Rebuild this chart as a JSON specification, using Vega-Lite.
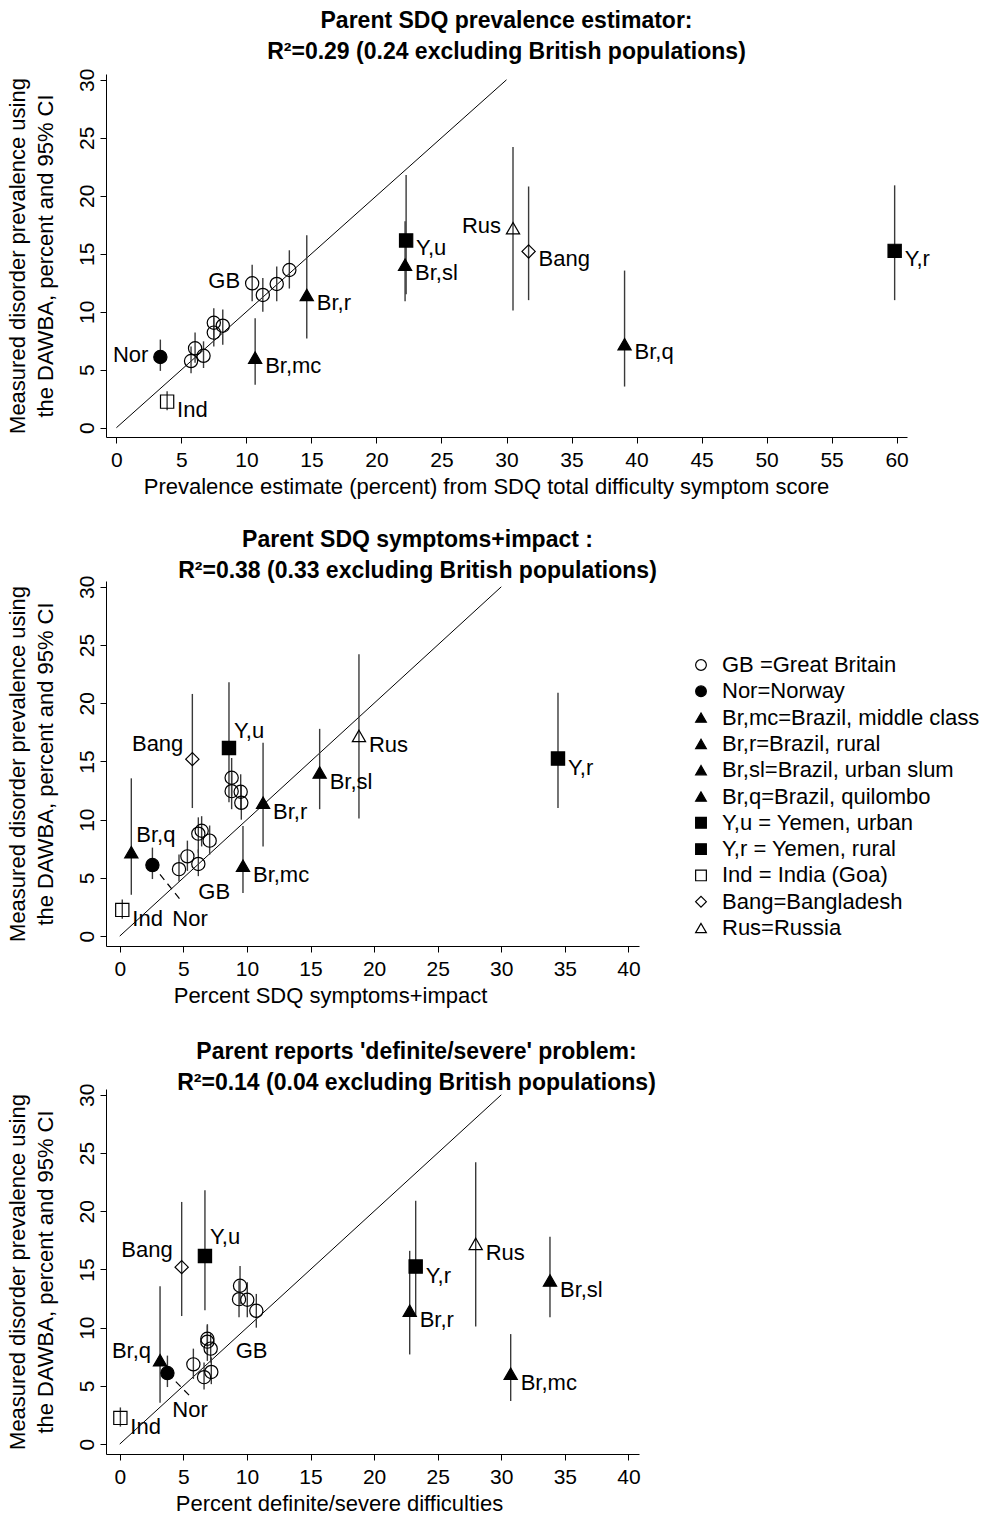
{
  "$schema": "https://vega.github.io/schema/vega-lite/v6.json",
  "background": "white",
  "padding": {"left": 5, "top": 10, "right": 2, "bottom": 2},
  "config": {
    "font": "Liberation Sans",
    "view": {"stroke": null},
    "axis": {"grid": false, "domainColor": "black", "tickColor": "black", "labelColor": "black", "titleColor": "black", "labelFontSize": 21, "titleFontSize": 22, "titleFontWeight": "normal", "tickSize": 6, "domainWidth": 1, "tickWidth": 1, "labelFont": "Liberation Sans", "titleFont": "Liberation Sans"},
    "axisY": {"labelAngle": -90, "labelAlign": "center", "labelBaseline": "bottom", "labelPadding": 3, "titleLineHeight": 28, "titlePadding": 19},
    "axisX": {"labelPadding": 6, "titlePadding": 6},
    "title": {"fontSize": 23, "fontWeight": "bold", "color": "black", "lineHeight": 31, "anchor": "middle", "frame": "group", "font": "Liberation Sans"},
    "legend": {"orient": "none", "legendX": 584, "legendY": 73, "labelFontSize": 22, "labelColor": "black", "symbolSize": 115, "symbolStrokeColor": "black", "symbolStrokeWidth": 1.2, "rowPadding": 4.3, "labelOffset": 10, "labelLimit": 400, "labelFont": "Liberation Sans"}
  },
  "datasets": {
    "diag": [{"x": 0, "y": 0}, {"x": 30, "y": 30}],
    "leaders": [
      {"panel": "p2", "x": 2.57, "y": 6.1, "x2": 4.9, "y2": 2.95},
      {"panel": "p3", "x": 3.75, "y": 6.1, "x2": 5.45, "y2": 4.2}
    ],
    "leadlab": [
      {"panel": "p2", "x": 4.9, "y": 2.95, "lab": "Nor"},
      {"panel": "p3", "x": 5.45, "y": 4.2, "lab": "Nor"}
    ],
    "pts": [
      {"panel": "p1", "grp": "GB =Great Britain", "x": 5.74, "y": 5.75, "lo": 4.7, "hi": 7.0, "lab": ""},
      {"panel": "p1", "grp": "GB =Great Britain", "x": 6.05, "y": 6.85, "lo": 5.6, "hi": 8.2, "lab": ""},
      {"panel": "p1", "grp": "GB =Great Britain", "x": 6.7, "y": 6.2, "lo": 5.15, "hi": 7.45, "lab": ""},
      {"panel": "p1", "grp": "GB =Great Britain", "x": 7.49, "y": 9.05, "lo": 7.7, "hi": 10.3, "lab": ""},
      {"panel": "p1", "grp": "GB =Great Britain", "x": 7.49, "y": 8.2, "lo": 7.0, "hi": 9.5, "lab": ""},
      {"panel": "p1", "grp": "GB =Great Britain", "x": 8.18, "y": 8.8, "lo": 7.15, "hi": 10.2, "lab": ""},
      {"panel": "p1", "grp": "GB =Great Britain", "x": 10.44, "y": 12.45, "lo": 10.9, "hi": 14.05, "lab": "GB"},
      {"panel": "p1", "grp": "GB =Great Britain", "x": 11.26, "y": 11.45, "lo": 10.0, "hi": 12.9, "lab": ""},
      {"panel": "p1", "grp": "GB =Great Britain", "x": 12.33, "y": 12.4, "lo": 10.9, "hi": 13.9, "lab": ""},
      {"panel": "p1", "grp": "GB =Great Britain", "x": 13.3, "y": 13.6, "lo": 12.0, "hi": 15.3, "lab": ""},
      {"panel": "p1", "grp": "Nor=Norway", "x": 3.38, "y": 6.1, "lo": 4.9, "hi": 7.6, "lab": "Nor"},
      {"panel": "p1", "grp": "Ind = India (Goa)", "x": 3.9, "y": 2.25, "lo": 1.5, "hi": 3.15, "lab": "Ind"},
      {"panel": "p1", "grp": "Br,mc=Brazil, middle class", "x": 10.67, "y": 6.05, "lo": 3.7, "hi": 9.45, "lab": "Br,mc"},
      {"panel": "p1", "grp": "Br,r=Brazil, rural", "x": 14.64, "y": 11.45, "lo": 7.7, "hi": 16.6, "lab": "Br,r"},
      {"panel": "p1", "grp": "Br,sl=Brazil, urban slum", "x": 22.2, "y": 14.05, "lo": 10.9, "hi": 17.8, "lab": "Br,sl"},
      {"panel": "p1", "grp": "Br,q=Brazil, quilombo", "x": 39.08, "y": 7.2, "lo": 3.55, "hi": 13.55, "lab": "Br,q"},
      {"panel": "p1", "grp": "Y,u = Yemen, urban", "x": 22.28, "y": 16.15, "lo": 11.5, "hi": 21.8, "lab": "Y,u"},
      {"panel": "p1", "grp": "Y,r = Yemen, rural", "x": 59.85, "y": 15.25, "lo": 11.0, "hi": 20.9, "lab": "Y,r"},
      {"panel": "p1", "grp": "Bang=Bangladesh", "x": 31.7, "y": 15.2, "lo": 11.0, "hi": 20.8, "lab": "Bang"},
      {"panel": "p1", "grp": "Rus=Russia", "x": 30.5, "y": 17.2, "lo": 10.1, "hi": 24.2, "lab": "Rus"},

      {"panel": "p2", "grp": "GB =Great Britain", "x": 4.66, "y": 5.75, "lo": 4.7, "hi": 7.0, "lab": ""},
      {"panel": "p2", "grp": "GB =Great Britain", "x": 5.32, "y": 6.85, "lo": 5.6, "hi": 8.2, "lab": ""},
      {"panel": "p2", "grp": "GB =Great Britain", "x": 6.18, "y": 6.2, "lo": 5.15, "hi": 7.45, "lab": "GB"},
      {"panel": "p2", "grp": "GB =Great Britain", "x": 6.44, "y": 9.05, "lo": 7.7, "hi": 10.3, "lab": ""},
      {"panel": "p2", "grp": "GB =Great Britain", "x": 7.07, "y": 8.2, "lo": 7.0, "hi": 9.5, "lab": ""},
      {"panel": "p2", "grp": "GB =Great Britain", "x": 6.18, "y": 8.8, "lo": 7.15, "hi": 10.2, "lab": ""},
      {"panel": "p2", "grp": "GB =Great Britain", "x": 8.8, "y": 12.45, "lo": 10.9, "hi": 14.05, "lab": ""},
      {"panel": "p2", "grp": "GB =Great Britain", "x": 9.56, "y": 11.45, "lo": 10.0, "hi": 12.9, "lab": ""},
      {"panel": "p2", "grp": "GB =Great Britain", "x": 9.51, "y": 12.4, "lo": 10.9, "hi": 13.9, "lab": ""},
      {"panel": "p2", "grp": "GB =Great Britain", "x": 8.8, "y": 13.6, "lo": 12.0, "hi": 15.3, "lab": ""},
      {"panel": "p2", "grp": "Nor=Norway", "x": 2.57, "y": 6.1, "lo": 4.9, "hi": 7.6, "lab": "Nor"},
      {"panel": "p2", "grp": "Ind = India (Goa)", "x": 0.2, "y": 2.25, "lo": 1.5, "hi": 3.15, "lab": "Ind"},
      {"panel": "p2", "grp": "Br,mc=Brazil, middle class", "x": 9.69, "y": 6.05, "lo": 3.7, "hi": 9.45, "lab": "Br,mc"},
      {"panel": "p2", "grp": "Br,r=Brazil, rural", "x": 11.27, "y": 11.45, "lo": 7.7, "hi": 16.6, "lab": "Br,r"},
      {"panel": "p2", "grp": "Br,sl=Brazil, urban slum", "x": 15.72, "y": 14.05, "lo": 10.9, "hi": 17.8, "lab": "Br,sl"},
      {"panel": "p2", "grp": "Br,q=Brazil, quilombo", "x": 0.91, "y": 7.2, "lo": 3.55, "hi": 13.55, "lab": "Br,q"},
      {"panel": "p2", "grp": "Y,u = Yemen, urban", "x": 8.59, "y": 16.15, "lo": 11.5, "hi": 21.8, "lab": "Y,u"},
      {"panel": "p2", "grp": "Y,r = Yemen, rural", "x": 34.46, "y": 15.25, "lo": 11.0, "hi": 20.9, "lab": "Y,r"},
      {"panel": "p2", "grp": "Bang=Bangladesh", "x": 5.71, "y": 15.2, "lo": 11.0, "hi": 20.8, "lab": "Bang"},
      {"panel": "p2", "grp": "Rus=Russia", "x": 18.81, "y": 17.2, "lo": 10.1, "hi": 24.2, "lab": "Rus"},

      {"panel": "p3", "grp": "GB =Great Britain", "x": 6.63, "y": 5.75, "lo": 4.7, "hi": 7.0, "lab": ""},
      {"panel": "p3", "grp": "GB =Great Britain", "x": 5.79, "y": 6.85, "lo": 5.6, "hi": 8.2, "lab": ""},
      {"panel": "p3", "grp": "GB =Great Britain", "x": 7.2, "y": 6.2, "lo": 5.15, "hi": 7.45, "lab": ""},
      {"panel": "p3", "grp": "GB =Great Britain", "x": 6.89, "y": 9.05, "lo": 7.7, "hi": 10.3, "lab": ""},
      {"panel": "p3", "grp": "GB =Great Britain", "x": 7.15, "y": 8.2, "lo": 7.0, "hi": 9.5, "lab": "GB"},
      {"panel": "p3", "grp": "GB =Great Britain", "x": 6.89, "y": 8.8, "lo": 7.15, "hi": 10.2, "lab": ""},
      {"panel": "p3", "grp": "GB =Great Britain", "x": 9.38, "y": 12.45, "lo": 10.9, "hi": 14.05, "lab": ""},
      {"panel": "p3", "grp": "GB =Great Britain", "x": 10.74, "y": 11.45, "lo": 10.0, "hi": 12.9, "lab": ""},
      {"panel": "p3", "grp": "GB =Great Britain", "x": 10.03, "y": 12.4, "lo": 10.9, "hi": 13.9, "lab": ""},
      {"panel": "p3", "grp": "GB =Great Britain", "x": 9.46, "y": 13.6, "lo": 12.0, "hi": 15.3, "lab": ""},
      {"panel": "p3", "grp": "Nor=Norway", "x": 3.75, "y": 6.1, "lo": 4.9, "hi": 7.6, "lab": "Nor"},
      {"panel": "p3", "grp": "Ind = India (Goa)", "x": 0.05, "y": 2.25, "lo": 1.5, "hi": 3.15, "lab": "Ind"},
      {"panel": "p3", "grp": "Br,mc=Brazil, middle class", "x": 30.74, "y": 6.05, "lo": 3.7, "hi": 9.45, "lab": "Br,mc"},
      {"panel": "p3", "grp": "Br,r=Brazil, rural", "x": 22.8, "y": 11.45, "lo": 7.7, "hi": 16.6, "lab": "Br,r"},
      {"panel": "p3", "grp": "Br,sl=Brazil, urban slum", "x": 33.83, "y": 14.05, "lo": 10.9, "hi": 17.8, "lab": "Br,sl"},
      {"panel": "p3", "grp": "Br,q=Brazil, quilombo", "x": 3.17, "y": 7.2, "lo": 3.55, "hi": 13.55, "lab": "Br,q"},
      {"panel": "p3", "grp": "Y,u = Yemen, urban", "x": 6.7, "y": 16.15, "lo": 11.5, "hi": 21.8, "lab": "Y,u"},
      {"panel": "p3", "grp": "Y,r = Yemen, rural", "x": 23.27, "y": 15.25, "lo": 11.0, "hi": 20.9, "lab": "Y,r"},
      {"panel": "p3", "grp": "Bang=Bangladesh", "x": 4.87, "y": 15.2, "lo": 11.0, "hi": 20.8, "lab": "Bang"},
      {"panel": "p3", "grp": "Rus=Russia", "x": 27.99, "y": 17.2, "lo": 10.1, "hi": 24.2, "lab": "Rus"}
    ]
  },
  "spacing": 32,
  "resolve": {"scale": {"shape": "independent", "fill": "independent", "stroke": "independent"}},
  "vconcat": [
    {
      "width": 801, "height": 363,
      "title": {"text": ["Parent SDQ prevalence estimator:", "R²=0.29 (0.24 excluding British populations)"], "offset": 4, "dx": 0},
      "encoding": {
        "x": {"field": "x", "type": "quantitative", "scale": {"domain": [-0.8, 60.8], "nice": false, "zero": false}, "axis": {"values": [0, 5, 10, 15, 20, 25, 30, 35, 40, 45, 50, 55, 60], "title": "Prevalence estimate (percent) from SDQ total difficulty symptom score", "titleX": 380}},
        "y": {"field": "y", "type": "quantitative", "scale": {"domain": [-0.8, 30.5], "nice": false, "zero": false}, "axis": {"values": [0, 5, 10, 15, 20, 25, 30], "title": ["Measured disorder prevalence using", "the DAWBA, percent and 95% CI"]}}
      },
      "layer": [
        {"data": {"name": "diag"}, "mark": {"type": "line", "color": "black", "strokeWidth": 1}, "encoding": {}},
        {"data": {"name": "pts"}, "transform": [{"filter": "datum.panel == 'p1'"}], "mark": {"type": "rule", "color": "#3a3a3a", "strokeWidth": 1.4},
         "encoding": {"y": {"field": "lo", "type": "quantitative", "scale": {"domain": [-0.8, 30.5], "nice": false, "zero": false}, "axis": {"values": [0, 5, 10, 15, 20, 25, 30], "title": ["Measured disorder prevalence using", "the DAWBA, percent and 95% CI"]}}, "y2": {"field": "hi"}}},
        {"data": {"name": "pts"}, "transform": [{"filter": "datum.panel == 'p1'"}], "mark": {"type": "point", "size": 175, "stroke": "black", "strokeWidth": 1.2, "opacity": 1, "fillOpacity": 1},
         "encoding": {
           "shape": {"field": "grp", "type": "nominal", "scale": {"domain": ["GB =Great Britain", "Nor=Norway", "Br,mc=Brazil, middle class", "Br,r=Brazil, rural", "Br,sl=Brazil, urban slum", "Br,q=Brazil, quilombo", "Y,u = Yemen, urban", "Y,r = Yemen, rural", "Ind = India (Goa)", "Bang=Bangladesh", "Rus=Russia"], "range": ["circle", "circle", "triangle-up", "triangle-up", "triangle-up", "triangle-up", "square", "square", "square", "diamond", "triangle-up"]}, "legend": null},
           "fill": {"field": "grp", "type": "nominal", "scale": {"domain": ["GB =Great Britain", "Nor=Norway", "Br,mc=Brazil, middle class", "Br,r=Brazil, rural", "Br,sl=Brazil, urban slum", "Br,q=Brazil, quilombo", "Y,u = Yemen, urban", "Y,r = Yemen, rural", "Ind = India (Goa)", "Bang=Bangladesh", "Rus=Russia"], "range": ["transparent", "black", "black", "black", "black", "black", "black", "black", "transparent", "transparent", "transparent"]}, "legend": null}
         }},
        {"data": {"name": "pts"}, "transform": [{"filter": "datum.panel == 'p1' && datum.lab != '' && indexof(['Nor','GB','Rus'], datum.lab) < 0"}], "mark": {"type": "text", "align": "left", "baseline": "middle", "dx": 10, "dy": 8, "fontSize": 22, "color": "black"}, "encoding": {"text": {"field": "lab"}}},
        {"data": {"name": "pts"}, "transform": [{"filter": "datum.panel == 'p1' && indexof(['Nor','GB','Rus'], datum.lab) >= 0"}], "mark": {"type": "text", "align": "right", "baseline": "middle", "dx": -12, "dy": -2, "fontSize": 22, "color": "black"}, "encoding": {"text": {"field": "lab"}}}
      ]
    },
    {
      "spacing": 35,
      "resolve": {"scale": {"shape": "independent", "fill": "independent", "stroke": "independent"}},
      "vconcat": [
        {
          "width": 533, "height": 365,
          "title": {"text": ["Parent SDQ symptoms+impact :", "R²=0.38 (0.33 excluding British populations)"], "offset": -8, "dx": 45},
          "encoding": {
            "x": {"field": "x", "type": "quantitative", "scale": {"domain": [-1.08, 40.83], "nice": false, "zero": false}, "axis": {"values": [0, 5, 10, 15, 20, 25, 30, 35, 40], "title": "Percent SDQ symptoms+impact", "titleX": 224}},
            "y": {"field": "y", "type": "quantitative", "scale": {"domain": [-0.85, 30.5], "nice": false, "zero": false}, "axis": {"values": [0, 5, 10, 15, 20, 25, 30], "title": ["Measured disorder prevalence using", "the DAWBA, percent and 95% CI"]}}
          },
          "layer": [
            {"data": {"name": "diag"}, "mark": {"type": "line", "color": "black", "strokeWidth": 1}, "encoding": {}},
            {"data": {"name": "leaders"}, "transform": [{"filter": "datum.panel == 'p2'"}], "mark": {"type": "rule", "color": "black", "strokeWidth": 1.2, "strokeDash": [7, 5]}, "encoding": {"x2": {"field": "x2"}, "y2": {"field": "y2"}}},
            {"data": {"name": "pts"}, "transform": [{"filter": "datum.panel == 'p2'"}], "mark": {"type": "rule", "color": "#3a3a3a", "strokeWidth": 1.4},
             "encoding": {"y": {"field": "lo", "type": "quantitative", "scale": {"domain": [-0.85, 30.5], "nice": false, "zero": false}, "axis": {"values": [0, 5, 10, 15, 20, 25, 30], "title": ["Measured disorder prevalence using", "the DAWBA, percent and 95% CI"]}}, "y2": {"field": "hi"}}},
            {"data": {"name": "pts"}, "transform": [{"filter": "datum.panel == 'p2'"}], "mark": {"type": "point", "size": 175, "strokeWidth": 1.2, "opacity": 1, "fillOpacity": 1, "strokeOpacity": 1},
             "encoding": {
               "shape": {"field": "grp", "type": "nominal", "scale": {"domain": ["GB =Great Britain", "Nor=Norway", "Br,mc=Brazil, middle class", "Br,r=Brazil, rural", "Br,sl=Brazil, urban slum", "Br,q=Brazil, quilombo", "Y,u = Yemen, urban", "Y,r = Yemen, rural", "Ind = India (Goa)", "Bang=Bangladesh", "Rus=Russia"], "range": ["circle", "circle", "triangle-up", "triangle-up", "triangle-up", "triangle-up", "square", "square", "square", "diamond", "triangle-up"]}, "legend": {"title": null}},
               "fill": {"field": "grp", "type": "nominal", "scale": {"domain": ["GB =Great Britain", "Nor=Norway", "Br,mc=Brazil, middle class", "Br,r=Brazil, rural", "Br,sl=Brazil, urban slum", "Br,q=Brazil, quilombo", "Y,u = Yemen, urban", "Y,r = Yemen, rural", "Ind = India (Goa)", "Bang=Bangladesh", "Rus=Russia"], "range": ["transparent", "black", "black", "black", "black", "black", "black", "black", "transparent", "transparent", "transparent"]}, "legend": {"title": null}},
               "stroke": {"field": "grp", "type": "nominal", "scale": {"domain": ["GB =Great Britain", "Nor=Norway", "Br,mc=Brazil, middle class", "Br,r=Brazil, rural", "Br,sl=Brazil, urban slum", "Br,q=Brazil, quilombo", "Y,u = Yemen, urban", "Y,r = Yemen, rural", "Ind = India (Goa)", "Bang=Bangladesh", "Rus=Russia"], "range": ["black", "black", "black", "black", "black", "black", "black", "black", "black", "black", "black"]}, "legend": {"title": null}}
             }},
            {"data": {"name": "pts"}, "transform": [{"filter": "datum.panel == 'p2' && datum.lab != '' && indexof(['Nor','GB','Bang','Y,u','Br,q'], datum.lab) < 0"}], "mark": {"type": "text", "align": "left", "baseline": "middle", "dx": 10, "dy": 9, "fontSize": 22, "color": "black"}, "encoding": {"text": {"field": "lab"}}},
            {"data": {"name": "pts"}, "transform": [{"filter": "datum.panel == 'p2' && indexof(['Y,u','Br,q'], datum.lab) >= 0"}], "mark": {"type": "text", "align": "left", "baseline": "middle", "dx": 5, "dy": -17, "fontSize": 22, "color": "black"}, "encoding": {"text": {"field": "lab"}}},
            {"data": {"name": "pts"}, "transform": [{"filter": "datum.panel == 'p2' && datum.lab == 'Bang'"}], "mark": {"type": "text", "align": "right", "baseline": "middle", "dx": -9, "dy": -15, "fontSize": 22, "color": "black"}, "encoding": {"text": {"field": "lab"}}},
            {"data": {"name": "pts"}, "transform": [{"filter": "datum.panel == 'p2' && datum.lab == 'GB'"}], "mark": {"type": "text", "align": "left", "baseline": "middle", "dx": 0, "dy": 28, "fontSize": 22, "color": "black"}, "encoding": {"text": {"field": "lab"}}},
            {"data": {"name": "leadlab"}, "transform": [{"filter": "datum.panel == 'p2'"}], "mark": {"type": "text", "align": "center", "baseline": "middle", "dx": 8, "dy": 17, "fontSize": 22, "color": "black"}, "encoding": {"text": {"field": "lab"}}}
          ]
        },
        {
          "width": 533, "height": 365,
          "title": {"text": ["Parent reports 'definite/severe' problem:", "R²=0.14 (0.04 excluding British populations)"], "offset": -12, "dx": 44},
          "encoding": {
            "x": {"field": "x", "type": "quantitative", "scale": {"domain": [-1.08, 40.83], "nice": false, "zero": false}, "axis": {"values": [0, 5, 10, 15, 20, 25, 30, 35, 40], "title": "Percent definite/severe difficulties", "titleX": 233}},
            "y": {"field": "y", "type": "quantitative", "scale": {"domain": [-0.85, 30.5], "nice": false, "zero": false}, "axis": {"values": [0, 5, 10, 15, 20, 25, 30], "title": ["Measured disorder prevalence using", "the DAWBA, percent and 95% CI"]}}
          },
          "layer": [
            {"data": {"name": "diag"}, "mark": {"type": "line", "color": "black", "strokeWidth": 1}, "encoding": {}},
            {"data": {"name": "leaders"}, "transform": [{"filter": "datum.panel == 'p3'"}], "mark": {"type": "rule", "color": "black", "strokeWidth": 1.2, "strokeDash": [7, 5]}, "encoding": {"x2": {"field": "x2"}, "y2": {"field": "y2"}}},
            {"data": {"name": "pts"}, "transform": [{"filter": "datum.panel == 'p3'"}], "mark": {"type": "rule", "color": "#3a3a3a", "strokeWidth": 1.4},
             "encoding": {"y": {"field": "lo", "type": "quantitative", "scale": {"domain": [-0.85, 30.5], "nice": false, "zero": false}, "axis": {"values": [0, 5, 10, 15, 20, 25, 30], "title": ["Measured disorder prevalence using", "the DAWBA, percent and 95% CI"]}}, "y2": {"field": "hi"}}},
            {"data": {"name": "pts"}, "transform": [{"filter": "datum.panel == 'p3'"}], "mark": {"type": "point", "size": 175, "stroke": "black", "strokeWidth": 1.2, "opacity": 1, "fillOpacity": 1},
             "encoding": {
               "shape": {"field": "grp", "type": "nominal", "scale": {"domain": ["GB =Great Britain", "Nor=Norway", "Br,mc=Brazil, middle class", "Br,r=Brazil, rural", "Br,sl=Brazil, urban slum", "Br,q=Brazil, quilombo", "Y,u = Yemen, urban", "Y,r = Yemen, rural", "Ind = India (Goa)", "Bang=Bangladesh", "Rus=Russia"], "range": ["circle", "circle", "triangle-up", "triangle-up", "triangle-up", "triangle-up", "square", "square", "square", "diamond", "triangle-up"]}, "legend": null},
               "fill": {"field": "grp", "type": "nominal", "scale": {"domain": ["GB =Great Britain", "Nor=Norway", "Br,mc=Brazil, middle class", "Br,r=Brazil, rural", "Br,sl=Brazil, urban slum", "Br,q=Brazil, quilombo", "Y,u = Yemen, urban", "Y,r = Yemen, rural", "Ind = India (Goa)", "Bang=Bangladesh", "Rus=Russia"], "range": ["transparent", "black", "black", "black", "black", "black", "black", "black", "transparent", "transparent", "transparent"]}, "legend": null}
             }},
            {"data": {"name": "pts"}, "transform": [{"filter": "datum.panel == 'p3' && datum.lab != '' && indexof(['Nor','GB','Bang','Y,u','Br,q'], datum.lab) < 0"}], "mark": {"type": "text", "align": "left", "baseline": "middle", "dx": 10, "dy": 9, "fontSize": 22, "color": "black"}, "encoding": {"text": {"field": "lab"}}},
            {"data": {"name": "pts"}, "transform": [{"filter": "datum.panel == 'p3' && datum.lab == 'Y,u'"}], "mark": {"type": "text", "align": "left", "baseline": "middle", "dx": 5, "dy": -19, "fontSize": 22, "color": "black"}, "encoding": {"text": {"field": "lab"}}},
            {"data": {"name": "pts"}, "transform": [{"filter": "datum.panel == 'p3' && datum.lab == 'Bang'"}], "mark": {"type": "text", "align": "right", "baseline": "middle", "dx": -9, "dy": -17, "fontSize": 22, "color": "black"}, "encoding": {"text": {"field": "lab"}}},
            {"data": {"name": "pts"}, "transform": [{"filter": "datum.panel == 'p3' && datum.lab == 'Br,q'"}], "mark": {"type": "text", "align": "right", "baseline": "middle", "dx": -9, "dy": -9, "fontSize": 22, "color": "black"}, "encoding": {"text": {"field": "lab"}}},
            {"data": {"name": "pts"}, "transform": [{"filter": "datum.panel == 'p3' && datum.lab == 'GB'"}], "mark": {"type": "text", "align": "left", "baseline": "middle", "dx": 25, "dy": 2, "fontSize": 22, "color": "black"}, "encoding": {"text": {"field": "lab"}}},
            {"data": {"name": "leadlab"}, "transform": [{"filter": "datum.panel == 'p3'"}], "mark": {"type": "text", "align": "center", "baseline": "middle", "dx": 1, "dy": 15, "fontSize": 22, "color": "black"}, "encoding": {"text": {"field": "lab"}}}
          ]
        }
      ]
    }
  ]
}
